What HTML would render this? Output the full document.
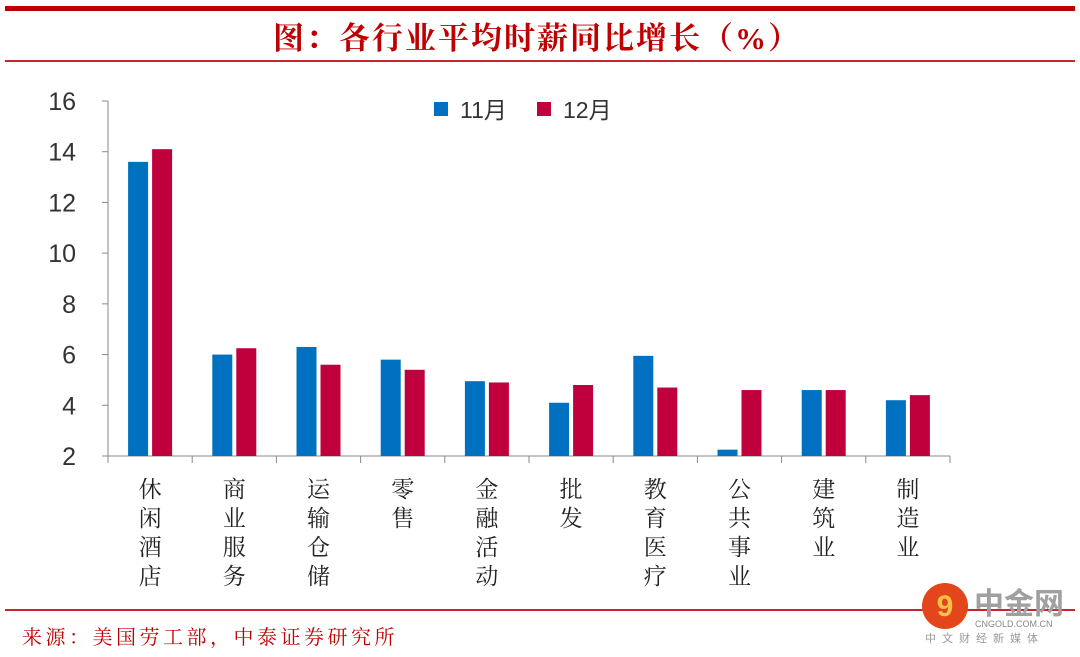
<!DOCTYPE html>
<html><head><meta charset="utf-8"><style>
body{margin:0;background:#fff;width:1080px;height:657px;overflow:hidden}
svg{display:block}
</style></head><body>
<svg id="c" width="1080" height="657" xmlns="http://www.w3.org/2000/svg">
<rect x="5" y="6" width="1070" height="5" fill="#C00000"/>
<text x="537" y="49" text-anchor="middle" font-family="'Liberation Serif','Noto Serif CJK SC',serif" font-size="31" letter-spacing="2" font-weight="bold" fill="#C00000">图：各行业平均时薪同比增长（%）</text>
<rect x="5" y="60" width="1070" height="2" fill="#C8262C"/>
<rect x="5" y="609" width="1070" height="2" fill="#C8262C"/>
<text x="22" y="644" font-family="'Liberation Serif','Noto Serif CJK SC',serif" font-size="20" letter-spacing="3.5" fill="#C00000">来源：美国劳工部，中泰证券研究所</text>
<g>
<circle cx="945" cy="606" r="23" fill="#E2461A"/>
<text x="945" y="616" text-anchor="middle" font-family="'Liberation Sans',sans-serif" font-size="30" font-weight="bold" fill="#F7C04A">9</text>
<text x="974" y="614" font-family="'Liberation Sans','Noto Sans CJK SC',sans-serif" font-size="30" font-weight="bold" fill="#A0A0A0">中金网</text>
<text x="975" y="627" font-family="'Liberation Sans',sans-serif" font-size="9" fill="#888">CNGOLD.COM.CN</text>
<text x="925" y="642" font-family="'Liberation Sans','Noto Sans CJK SC',sans-serif" font-size="11" letter-spacing="6" fill="#999">中文财经新媒体</text>
</g>
<g id="plot"></g>
</svg>
<script>
const categories=["休闲酒店","商业服务","运输仓储","零售","金融活动","批发","教育医疗","公共事业","建筑业","制造业"];
const nov=[13.6,6.0,6.3,5.8,4.95,4.1,5.95,2.25,4.6,4.2];
const dec=[14.1,6.25,5.6,5.4,4.9,4.8,4.7,4.6,4.6,4.4];
const yTicks=[2,4,6,8,10,12,14,16];
const seriesNames=["11月","12月"];
const NS="http://www.w3.org/2000/svg";
const g=document.getElementById('plot');
const x0=108,x1=950,yB=456,yT=101,vMin=2,vMax=16;
const band=(x1-x0)/categories.length;
const y=v=>yB-(v-vMin)/(vMax-vMin)*(yB-yT);
const xc=i=>x0+band*(i+0.5);
function mk(t,a){const e=document.createElementNS(NS,t);for(const k in a)e.setAttribute(k,a[k]);g.appendChild(e);return e;}
const ff="'Liberation Sans','Noto Sans CJK SC',sans-serif";
let ax=mk('line',{x1:x0,y1:yT,x2:x0,y2:yB,stroke:'#888','stroke-width':1});


let bx=mk('line',{x1:x0,y1:yB,x2:x1,y2:yB,stroke:'#888','stroke-width':1});


yTicks.forEach(v=>{
 let tk=mk('line',{x1:x0-6,y1:y(v),x2:x0,y2:y(v),stroke:'#888'});
 
 
 let t=mk('text',{x:76,y:y(v)+9,'text-anchor':'end','font-family':ff,'font-size':25,fill:'#333'});
 t.textContent=v;
 
 
});
for(let i=0;i<=categories.length;i++){
 let tk=mk('line',{x1:x0+band*i,y1:yB,x2:x0+band*i,y2:yB+7,stroke:'#888'});
 
 
}
categories.forEach((c,i)=>{
 let b1=mk('rect',{x:xc(i)-22,y:y(nov[i]),width:20,height:yB-y(nov[i]),fill:'#0070C0'});
 
 
 let b2=mk('rect',{x:xc(i)+2,y:y(dec[i]),width:20,height:yB-y(dec[i]),fill:'#C0003C'});
 
 
 [...c].forEach((ch,j)=>{
  let t=mk('text',{x:xc(i),y:497+j*29,'text-anchor':'middle','font-family':"'Liberation Serif','Noto Serif CJK SC',serif",'font-size':23,fill:'#222'});
  t.textContent=ch;
  
  
 });
});
const legCols=['#0070C0','#C0003C'];const legX=[434,537];
seriesNames.forEach((n,i)=>{
 let r=mk('rect',{x:legX[i],y:102,width:14,height:14,fill:legCols[i]});
 
 
 let t=mk('text',{x:legX[i]+26,y:118,'font-family':ff,'font-size':23,fill:'#333'});
 t.textContent=n;
 
 
});
</script>
</body></html>
